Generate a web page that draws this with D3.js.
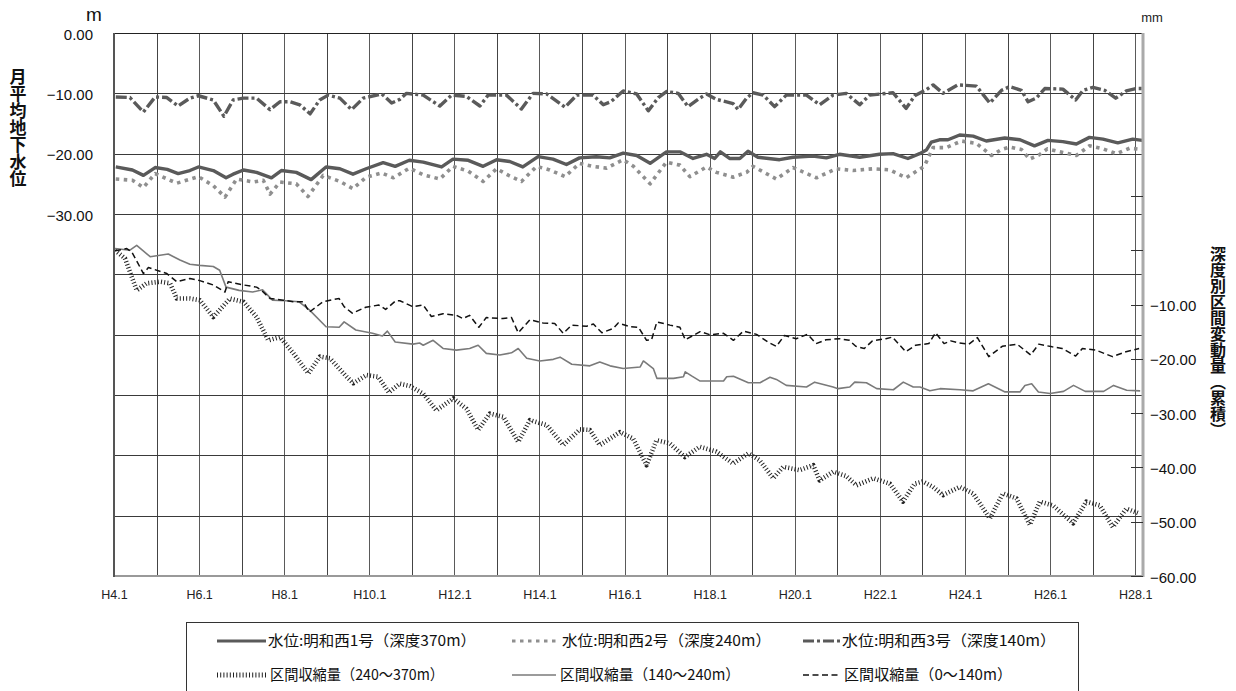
<!DOCTYPE html>
<html><head><meta charset="utf-8">
<script src="https://cdn.jsdelivr.net/npm/d3@7"></script>
<style>body{margin:0;background:#fff} svg{display:block}</style>
</head><body><svg id="c" width="1236" height="691"></svg>
<script>
// ---- data: [months since H4.1, value] ----
const xTickLabels = ["H4.1","H6.1","H8.1","H10.1","H12.1","H14.1","H16.1","H18.1","H20.1","H22.1","H24.1","H26.1","H28.1"];
const leftTicks = [0,-10,-20,-30];
const rightTicks = [10,0,-10,-20,-30,-40,-50,-60];
const seriesNames = ["水位:明和西1号（深度370m）","水位:明和西2号（深度240m）","水位:明和西3号（深度140m）","区間収縮量（240～370m）","区間収縮量（140～240m）","区間収縮量（0～140m）"];

const well1 = [[0.5,-22.2],[5.2,-22.7],[8.3,-23.6],[11.6,-22.3],[15,-22.6],[18.1,-23.3],[21.4,-22.8],[23.8,-22.2],[28,-22.8],[31.6,-24],[33.6,-23.4],[36.5,-22.7],[40.2,-23.1],[44.4,-24],[47.2,-22.8],[51.4,-23.1],[55.6,-24.3],[59.8,-22.2],[63.7,-22.5],[67.4,-23.4],[71.1,-22.5],[75.9,-21.5],[79.3,-22.1],[83.3,-21.1],[87.2,-21.4],[92.4,-22.2],[95.6,-20.9],[99.9,-21.1],[104.1,-22.1],[107.9,-21],[111.6,-21.3],[115.3,-22.2],[119.6,-20.5],[123.8,-20.9],[127.6,-21.8],[131.3,-20.7],[136,-20.5],[139.8,-20.7],[143.6,-19.9],[147.4,-20.3],[151.2,-21.6],[155.8,-19.7],[159.6,-19.7],[163.3,-20.8],[167.1,-20.1],[169.4,-20.8],[171,-19.7],[173.6,-20.8],[176.5,-20.8],[178.8,-19.6],[181.6,-20.6],[187.7,-21],[191.5,-20.6],[197.1,-20.4],[200.9,-20.7],[204.6,-20.1],[210.3,-20.6],[215.9,-20.1],[219.7,-20],[223.9,-20.8],[227.2,-20],[229.1,-19.4],[230.5,-18.1],[232.8,-17.7],[235.2,-17.7],[238.5,-16.9],[242.3,-17.1],[246,-17.9],[251.2,-17.4],[255.5,-17.7],[259.6,-18.7],[263.4,-17.8],[267.6,-18],[271.4,-18.4],[275.1,-17.3],[278.9,-17.6],[283.1,-18.2],[287.3,-17.6],[290,-17.8]];

const well2 = [[0.5,-24.2],[5.2,-24.4],[8.3,-25.6],[11.6,-23.3],[17.7,-24.9],[23.8,-23.8],[28,-25.3],[31.3,-27.2],[34.6,-24.2],[39.3,-24.7],[42.1,-24.4],[44,-26.7],[46.8,-24.7],[51.4,-25],[54.7,-27.1],[59,-23.6],[63.7,-24.6],[67.4,-25.8],[71.1,-23.9],[75.5,-23.2],[78.8,-24],[83.3,-22.4],[87.2,-23.5],[91.9,-24.2],[95.6,-22.1],[99.9,-22.9],[104.1,-24.6],[107.9,-22.5],[111.6,-23.7],[114.9,-24.6],[119.2,-22.1],[122.9,-22.7],[127.2,-23.8],[131.3,-21.6],[135.1,-22.1],[138.9,-22.4],[143.6,-21],[146.5,-22.1],[151.2,-25],[155.8,-21.4],[159.6,-21.9],[162.4,-23.8],[167.1,-22.2],[169.9,-23.1],[174.6,-23.9],[178.4,-23.1],[180.2,-22.1],[186.8,-24.2],[191.5,-22.3],[198.1,-24],[203.7,-22.5],[208.4,-22.8],[214.1,-22.5],[218.8,-22.7],[223.4,-24],[228.5,-22.1],[231,-19],[234.7,-19],[239,-17.9],[243.2,-18.3],[247.5,-20.3],[250.3,-19.3],[252.6,-18.9],[255.9,-19.3],[258.2,-20.9],[260.9,-20.2],[263.2,-19.2],[267.6,-19.8],[271.4,-20.3],[275.1,-18.7],[278.9,-19.2],[282.7,-20],[286.4,-19.1],[290,-19.3]];

const well3 = [[0.5,-10.6],[4.5,-10.7],[8.3,-13.1],[11.6,-10.6],[14.9,-10.7],[18.1,-12.1],[21.4,-10.8],[23.8,-10.4],[28,-11.1],[31,-13.8],[33.6,-11.1],[36.5,-10.8],[40.2,-10.8],[44,-12.7],[46.8,-11.4],[49.6,-11.4],[52.4,-11.9],[55.3,-13.4],[58,-11.1],[60.4,-10.3],[63.7,-10.8],[67,-12.7],[70.3,-10.8],[75.5,-10.1],[78.3,-11.6],[80.6,-11],[82.5,-10],[87.2,-10.3],[91.9,-12.1],[95.2,-10.3],[99.4,-10.5],[103.2,-12.1],[105.5,-10.3],[110.7,-10.3],[114.9,-12.6],[118.2,-10],[122,-10.1],[127.2,-12.3],[130.5,-10.3],[135.1,-10.3],[138,-11.9],[140.1,-11.4],[143.6,-9.6],[147.4,-10.1],[150.7,-12.9],[153.5,-10.7],[155.8,-9.7],[159.1,-10],[161.9,-12.2],[165.2,-10.8],[167.1,-10.1],[169.9,-11],[174.6,-11.7],[176,-12.7],[178.4,-10.8],[180.2,-9.9],[183.1,-10.3],[186.3,-12.2],[189.6,-10.3],[195.3,-10.3],[199,-11.9],[202.8,-10.3],[206.5,-10],[210.3,-11.9],[213.1,-10.3],[219.7,-9.9],[223.4,-12.5],[225.8,-10.4],[229.1,-9.4],[231,-8.6],[233.8,-10],[238,-8.6],[243.2,-8.8],[247,-11.6],[250.3,-9.5],[252.6,-8.9],[255.9,-9.5],[257.8,-11.4],[260.1,-10.8],[262.5,-9.2],[267.6,-9.3],[271.2,-11.1],[273.3,-9.5],[276.1,-9],[279.4,-9.5],[282.5,-10.8],[285.5,-9.6],[288.3,-9.2],[290,-9.2]];

const comp240_370 = [[0.3,0],[3.1,-1.5],[6.4,-7.4],[9.2,-6.1],[13,-5.8],[15.8,-6.1],[17.7,-8.9],[21.4,-8.9],[24.2,-9.2],[28,-12.3],[32.7,-8.9],[36.5,-9.5],[40.2,-12.3],[43.5,-16.6],[46.8,-16],[50.6,-19],[54.8,-22.7],[58.1,-19.6],[60.9,-19.9],[65.6,-23.3],[67.5,-24.5],[71.2,-23],[74.5,-23.3],[77.5,-26.2],[80.6,-24.6],[83.4,-25],[87.2,-26.4],[90.9,-29.5],[95.7,-27.3],[99.4,-29.2],[102.7,-33.1],[106,-30.1],[109.8,-30.7],[114,-35.3],[117.3,-31.3],[122,-32.2],[126.7,-35.9],[131.4,-33],[134.2,-33.1],[137,-35.9],[142.7,-33.5],[146.4,-34.7],[150.2,-39.6],[153,-35],[156.8,-35.6],[161,-38.1],[165.2,-36.2],[169.9,-37.1],[174.6,-39.3],[178.9,-37.4],[182.1,-38.7],[185.9,-42],[188.7,-39.9],[193.4,-40.5],[197.2,-39.6],[199,-42.4],[202.8,-40.8],[206.5,-41.6],[209.4,-43.3],[214.1,-42],[218.8,-43],[222.5,-46.3],[225.8,-43],[228.1,-42.6],[231,-43.6],[233.8,-45.1],[238.5,-43.6],[242.3,-44.8],[247,-49.4],[250.7,-44.8],[254.5,-45.7],[258.3,-50.6],[261.1,-46.3],[264.8,-47],[270.5,-50.3],[274.2,-46.3],[278,-47],[281.7,-51],[285.5,-47.6],[289.2,-48.5]];

const comp140_240 = [[0.3,0.3],[4.5,0],[6.4,0.9],[10.2,-1.2],[15.3,-0.7],[18.6,-1.8],[21.4,-2.6],[24.2,-2.8],[28,-3],[29.8,-3.7],[31.6,-6.8],[35.3,-7.4],[39.1,-7.7],[41.9,-7.3],[44.7,-9.2],[48.4,-9.3],[52.2,-9.5],[55.1,-11],[59.8,-14.1],[63.5,-14.2],[64.9,-13.2],[68.2,-14.7],[72.9,-15.3],[75.7,-15.8],[77.1,-14.9],[79.3,-16.9],[84.3,-17.3],[86.2,-17.1],[87.2,-17.5],[90,-16.6],[92.8,-18.1],[96.6,-18.4],[100.3,-18.1],[102.7,-17.5],[105,-19],[108.8,-19.3],[112.1,-18.9],[114,-18.1],[116.4,-19.9],[120.1,-20.4],[123.9,-20.1],[125.8,-19.7],[129.1,-21],[134.2,-21.3],[137,-20.6],[139.9,-21.3],[143.6,-21.8],[148.4,-21.5],[149.3,-20.4],[152.1,-21.8],[153.1,-23.6],[157.8,-23.6],[160.6,-23.3],[161.1,-22.4],[163,-23.2],[165.3,-24.1],[171.9,-24.1],[172.8,-23.3],[174.7,-23.2],[178.9,-24.4],[182.2,-24.4],[185,-23.4],[186.8,-23.8],[189.6,-24.9],[195.3,-25.2],[197.6,-24.3],[202.8,-25.2],[204.2,-25.5],[207.5,-25.2],[208.9,-24.3],[212.2,-24.4],[215.1,-25.5],[219.8,-25.7],[222.6,-24.3],[225.4,-25.2],[227.3,-25.2],[230.1,-25.9],[233,-25.5],[238.6,-25.7],[242.3,-25.9],[246.6,-24.6],[251.3,-26.1],[255.5,-26.1],[256.9,-24.9],[258.8,-24.6],[260.7,-26.1],[264,-26.4],[267.8,-26],[270.6,-24.9],[273.9,-26],[279.1,-26],[281.9,-24.9],[285.6,-25.8],[289.4,-25.9]];

const comp0_140 = [[0.3,-0.1],[3.6,0.3],[5,-0.3],[8.3,-4.3],[9.7,-3.2],[14.9,-4.3],[17.7,-5.8],[21.4,-5.2],[24.2,-5.6],[28,-6.4],[31.3,-7.7],[32.2,-5.8],[36.5,-6.4],[40.2,-6.8],[41.6,-7.4],[44,-8.9],[47.7,-9.2],[50.5,-9.5],[53.4,-9.5],[55.1,-11.4],[58.9,-9.5],[61.7,-9.1],[63.5,-8.9],[64.9,-10.4],[67.2,-11.6],[71,-10.5],[74.7,-10.1],[76.6,-10.9],[79.5,-9.3],[80.6,-9.3],[84.3,-10.4],[87.2,-10.1],[89.5,-12.2],[92.8,-11.7],[96.6,-12],[98.4,-12.6],[100.3,-12],[102.9,-14.2],[105,-12.4],[109.7,-12.6],[112.1,-12.4],[114,-15.2],[117.3,-12.8],[121,-13.4],[124.3,-13.5],[126.7,-15.3],[129.1,-13.8],[133.3,-14],[135.2,-13.6],[137.6,-15.2],[140.8,-14.4],[142.2,-13.4],[145.5,-14.1],[147.9,-14.2],[150.2,-16.6],[151.6,-16.5],[153.1,-13.2],[156.8,-13.8],[159.6,-14.2],[161.1,-16.5],[165.3,-15],[168.2,-15.6],[171.9,-15.3],[174.7,-16.6],[177.5,-14.9],[181.2,-15.5],[184.6,-17],[186.8,-17.7],[189.1,-15.7],[192.4,-16.3],[195.6,-15.5],[198,-17.2],[200.8,-16.5],[204.6,-16.3],[207.4,-16.6],[209.2,-17.7],[211.6,-18.1],[213.9,-16.7],[217.7,-16.3],[219.5,-16],[223.3,-18.7],[226.1,-17.5],[229.8,-17.2],[231.7,-15.2],[234.1,-17.2],[236,-16.7],[238.3,-17.1],[241.1,-17.3],[243.5,-16.1],[246.7,-19.6],[250.5,-17.7],[254.7,-17.3],[258.5,-19.3],[260.8,-17.3],[264.6,-17.8],[267.4,-18.1],[271.2,-19.5],[273.1,-18.1],[276.9,-18.4],[281.6,-19.6],[285.4,-18.7],[289.1,-18.1]];

// ---- drawing ----
const W = 1236, H = 691;
const NUM = "'Liberation Sans', Arial, sans-serif";
const JP = "'Noto Sans CJK JP', sans-serif";
const svg = d3.select("#c");
svg.append("rect").attr("width", W).attr("height", H).attr("fill", "#fff");

const x = d3.scaleLinear().domain([0, 290.2]).range([114, 1143]);
const yL = d3.scaleLinear().domain([-90, 0]).range([576, 33]);
const yR = d3.scaleLinear().domain([-60, 40]).range([576, 33]);
const [x0, x1] = x.range(); const [yb, yt] = yL.range();

const fmt = d3.format(".2f");

// grid
const yearMonths = d3.range(0, 289, 12);
const gv = svg.append("g").attr("transform", `translate(0,${yb})`)
  .call(d3.axisBottom(x).tickValues(yearMonths).tickSize(-(yb - yt)).tickFormat(""));
gv.select(".domain").remove();
gv.selectAll("line").attr("stroke", (d, i) => i % 2 ? "#444" : "#5a5a5a").attr("shape-rendering", "crispEdges");
const gh = svg.append("g").attr("transform", `translate(${x0},0)`)
  .call(d3.axisLeft(yL).tickValues(d3.range(-90, 1, 10)).tickSize(-(x1 - x0)).tickFormat(""));
gh.select(".domain").remove();
gh.selectAll("line").attr("stroke", "#3a3a3a").attr("shape-rendering", "crispEdges");

// series
svg.append("clipPath").attr("id", "pc").append("rect")
  .attr("x", x0).attr("y", yt).attr("width", x1 - x0).attr("height", yb - yt);
const lineL = d3.line().x(d => x(d[0])).y(d => yL(d[1]));
const lineR = d3.line().x(d => x(d[0])).y(d => yR(d[1]));

const styles = [
  {stroke: "#5a5a5a", w: 3.4, dash: null},
  {stroke: "#8f8f8f", w: 3.6, dash: "3.5,4.5"},
  {stroke: "#5a5a5a", w: 3.4, dash: "11,3,3,3"},
  {stroke: "#222", w: 4.6, dash: "1,2.2"},
  {stroke: "#7a7a7a", w: 1.6, dash: null},
  {stroke: "#111", w: 1.5, dash: "6,3.5"}
];
const plotData = [
  {d: well1, line: lineL, s: styles[0]},
  {d: well2, line: lineL, s: styles[1]},
  {d: well3, line: lineL, s: styles[2]},
  {d: comp240_370, line: lineR, s: styles[3]},
  {d: comp140_240, line: lineR, s: styles[4]},
  {d: comp0_140, line: lineR, s: styles[5]}
];
const gS = svg.append("g").attr("clip-path", "url(#pc)");
[3,4,5,1,0,2].forEach(i => {
  const p = plotData[i];
  gS.append("path").attr("d", p.line(p.d)).attr("fill", "none")
    .attr("stroke", p.s.stroke).attr("stroke-width", p.s.w)
    .attr("stroke-dasharray", p.s.dash).attr("stroke-linejoin", "round");
});

// frame
svg.append("line").attr("x1", x0).attr("x2", x1).attr("y1", yt).attr("y2", yt)
  .attr("stroke", "#222").attr("shape-rendering", "crispEdges");
svg.append("line").attr("x1", x0).attr("x2", x1 + 1).attr("y1", yb).attr("y2", yb)
  .attr("stroke", "#999").attr("stroke-width", 2);
svg.append("line").attr("x1", x0).attr("x2", x0).attr("y1", yt).attr("y2", yb + 1)
  .attr("stroke", "#555").attr("stroke-width", 2);
svg.append("line").attr("x1", x1).attr("x2", x1).attr("y1", yt).attr("y2", yb + 1)
  .attr("stroke", "#aaa").attr("stroke-width", 3);

// left axis labels
const aL = svg.append("g").attr("transform", `translate(${x0},0)`)
  .call(d3.axisLeft(yL).tickValues(leftTicks).tickSize(0).tickPadding(21).tickFormat(fmt));
aL.select(".domain").remove();
aL.selectAll("text").attr("font-family", NUM).attr("font-size", 15).attr("fill", "#111").attr("dy", "0.4em");

// right axis
const aR = svg.append("g").attr("transform", `translate(${x1},0)`)
  .call(d3.axisRight(yR).tickValues(rightTicks).tickSizeInner(-12).tickSizeOuter(0).tickPadding(7)
    .tickFormat(d => d < 0 ? fmt(d) : ""));
aR.select(".domain").remove();
aR.selectAll("line").attr("stroke", "#333").attr("shape-rendering", "crispEdges");
aR.selectAll("text").attr("font-family", NUM).attr("font-size", 15).attr("fill", "#111").attr("dy", "0.4em");

// bottom axis labels
const aB = svg.append("g").attr("transform", `translate(0,${yb})`)
  .call(d3.axisBottom(x).tickValues(xTickLabels.map((_, i) => i * 24)).tickSize(0).tickPadding(14)
    .tickFormat((d, i) => xTickLabels[i]));
aB.select(".domain").remove();
aB.selectAll("text").attr("font-family", NUM).attr("font-size", 12.5).attr("fill", "#222");

// unit labels
svg.append("text").attr("x", 94).attr("y", 21).attr("text-anchor", "middle")
  .attr("font-family", NUM).attr("font-size", 19).attr("fill", "#111").text("m");
svg.append("text").attr("x", 1152).attr("y", 22).attr("text-anchor", "middle")
  .attr("font-family", NUM).attr("font-size", 13).attr("fill", "#222").text("mm");

// axis titles (vertical)
svg.append("text").attr("x", 18).attr("y", 68)
  .style("writing-mode", "vertical-rl").attr("font-family", JP).attr("font-weight", "bold")
  .attr("font-size", 17).attr("fill", "#111").text("月平均地下水位");
svg.append("text").attr("x", 1218).attr("y", 246)
  .style("writing-mode", "vertical-rl").attr("font-family", JP).attr("font-weight", "bold")
  .attr("font-size", 16).attr("fill", "#111").text("深度別区間変動量（累積）");

// legend
svg.append("rect").attr("x", 186.5).attr("y", 622.5).attr("width", 892).attr("height", 90)
  .attr("fill", "none").attr("stroke", "#333");
const legPos = [[217,266,268,641,208],[512,559,562,641,209],[803,840,842,641,214],[217,266,270,675,174],[512,556,560,675,180],[803,840,844,675,168]];
seriesNames.forEach((name, i) => {
  const [a, b, t, y, len] = legPos[i];
  const s = styles[i];
  svg.append("line").attr("x1", a).attr("x2", b).attr("y1", y).attr("y2", y)
    .attr("stroke", s.stroke).attr("stroke-width", i === 3 ? 5 : (s.w > 3 ? 3 : s.w))
    .attr("stroke-dasharray", s.dash);
  svg.append("text").attr("x", t).attr("y", y).attr("dy", "0.36em")
    .attr("font-family", JP).attr("font-size", 15).attr("fill", "#111")
    .attr("textLength", len).attr("lengthAdjust", "spacingAndGlyphs").text(name);
});
</script></body></html>
